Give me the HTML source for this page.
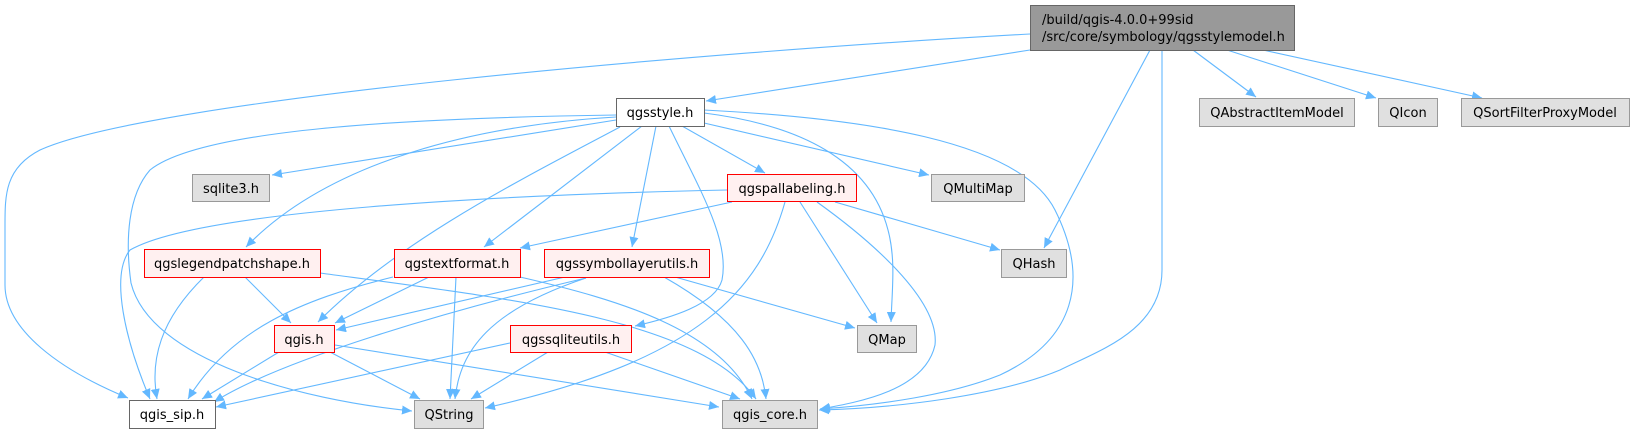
<!DOCTYPE html>
<html><head><meta charset="utf-8"><style>
html,body{margin:0;padding:0;background:#fff;}
svg{display:block;}
text{font-family:"DejaVu Sans","Liberation Sans",sans-serif;font-size:13px;fill:#000;}
.e{fill:none;stroke:#63b8ff;stroke-width:1.1;marker-end:url(#a);}
.w{fill:#fff;stroke:#666;}
.g{fill:#e0e0e0;stroke:#999;}
.r{fill:#fff0f0;stroke:#f00;}
</style></head><body>
<svg width="1634" height="434" viewBox="0 0 1634 434" xmlns="http://www.w3.org/2000/svg">
<defs><marker id="a" markerUnits="userSpaceOnUse" markerWidth="11" markerHeight="9" refX="10" refY="4.5" orient="auto"><path d="M0,0 L10,4.5 L0,9 z" fill="#63b8ff"/></marker></defs>
<path class="e" d="M1030,34 C700,52 150,100 40,150 C5,168 5,195 5,225 L5,285 C5,330 60,370 128,398"/>
<path class="e" d="M1030,50 L706,101"/>
<path class="e" d="M1150,50 L1044,248"/>
<path class="e" d="M1162,50 L1162,270 C1162,330 1100,350 1060,370 C1000,395 900,408 819,410"/>
<path class="e" d="M1193,50 L1256,97"/>
<path class="e" d="M1227,50 L1376,98"/>
<path class="e" d="M1263,50 L1482,98"/>
<path class="e" d="M616,120 L272,175"/>
<path class="e" d="M616,115 C400,118 200,130 150,170 C128,195 125,240 131,283 C150,360 300,400 412,411"/>
<path class="e" d="M616,117 C480,125 330,160 246,247"/>
<path class="e" d="M620,127 C520,180 400,240 318,322"/>
<path class="e" d="M642,126 L484,247"/>
<path class="e" d="M656,126 L632,247"/>
<path class="e" d="M669,126 C700,190 730,240 722,280 C715,305 670,318 635,326"/>
<path class="e" d="M682,126 L765,173"/>
<path class="e" d="M704,123 L929,175"/>
<path class="e" d="M704,113 C800,125 870,160 888,230 C896,260 892,290 891,322"/>
<path class="e" d="M704,110 C860,118 1020,140 1055,210 C1090,280 1075,340 1000,375 C950,395 880,405 820,409"/>
<path class="e" d="M727,190 C500,195 200,210 130,250 C110,275 125,340 150,399"/>
<path class="e" d="M732,202 L520,248"/>
<path class="e" d="M785,202 C760,290 700,360 485,408"/>
<path class="e" d="M800,202 L877,323"/>
<path class="e" d="M817,202 C870,240 940,300 935,345 C925,390 860,402 820,409"/>
<path class="e" d="M835,202 L1000,250"/>
<path class="e" d="M204,277 C160,320 150,360 157,399"/>
<path class="e" d="M245,277 L291,323"/>
<path class="e" d="M320,273 C520,300 700,320 756,399"/>
<path class="e" d="M393,277 C300,300 230,330 188,399"/>
<path class="e" d="M429,277 L335,323"/>
<path class="e" d="M456,277 L450,399"/>
<path class="e" d="M520,277 C620,300 720,330 752,399"/>
<path class="e" d="M565,277 L336,330"/>
<path class="e" d="M586,278 C450,310 280,360 214,402"/>
<path class="e" d="M586,278 C490,310 460,350 455,399"/>
<path class="e" d="M675,277 L855,328"/>
<path class="e" d="M664,277 C740,320 762,360 766,399"/>
<path class="e" d="M279,352 L202,399"/>
<path class="e" d="M330,352 L420,399"/>
<path class="e" d="M335,345 L719,407"/>
<path class="e" d="M510,343 L216,407"/>
<path class="e" d="M548,352 L471,399"/>
<path class="e" d="M605,352 L740,399"/>
<rect x="1030.5" y="5.5" width="264" height="45" fill="#999" stroke="#666"/>
<text x="1042" y="24">/build/qgis-4.0.0+99sid</text>
<text x="1042" y="41">/src/core/symbology/qgsstylemodel.h</text>
<rect class="w" x="616.5" y="98.5" width="88" height="28"/><text x="660" y="117" text-anchor="middle">qgsstyle.h</text>
<rect class="g" x="1199.5" y="98.5" width="155" height="28"/><text x="1277" y="117" text-anchor="middle">QAbstractItemModel</text>
<rect class="g" x="1378.5" y="98.5" width="59" height="28"/><text x="1408" y="117" text-anchor="middle">QIcon</text>
<rect class="g" x="1461.5" y="98.5" width="168" height="28"/><text x="1545" y="117" text-anchor="middle">QSortFilterProxyModel</text>
<rect class="g" x="192.5" y="174.5" width="77" height="27"/><text x="231" y="193" text-anchor="middle">sqlite3.h</text>
<rect class="r" x="727.5" y="174.5" width="129" height="27"/><text x="792" y="193" text-anchor="middle">qgspallabeling.h</text>
<rect class="g" x="931.5" y="174.5" width="93" height="27"/><text x="978" y="193" text-anchor="middle">QMultiMap</text>
<rect class="g" x="1001.5" y="249.5" width="65" height="28"/><text x="1034" y="268" text-anchor="middle">QHash</text>
<rect class="r" x="144.5" y="249.5" width="176" height="28"/><text x="232" y="268" text-anchor="middle">qgslegendpatchshape.h</text>
<rect class="r" x="394.5" y="249.5" width="126" height="28"/><text x="457" y="268" text-anchor="middle">qgstextformat.h</text>
<rect class="r" x="544.5" y="249.5" width="165" height="28"/><text x="627" y="268" text-anchor="middle">qgssymbollayerutils.h</text>
<rect class="r" x="274.5" y="325.5" width="60" height="27"/><text x="304" y="344" text-anchor="middle">qgis.h</text>
<rect class="r" x="510.5" y="325.5" width="121" height="27"/><text x="571" y="344" text-anchor="middle">qgssqliteutils.h</text>
<rect class="g" x="857.5" y="325.5" width="59" height="27"/><text x="887" y="344" text-anchor="middle">QMap</text>
<rect class="w" x="129.5" y="400.5" width="86" height="28"/><text x="172" y="419" text-anchor="middle">qgis_sip.h</text>
<rect class="g" x="414.5" y="400.5" width="69" height="28"/><text x="449" y="419" text-anchor="middle">QString</text>
<rect class="g" x="722.5" y="400.5" width="95" height="28"/><text x="770" y="419" text-anchor="middle">qgis_core.h</text>
</svg>
</body></html>
